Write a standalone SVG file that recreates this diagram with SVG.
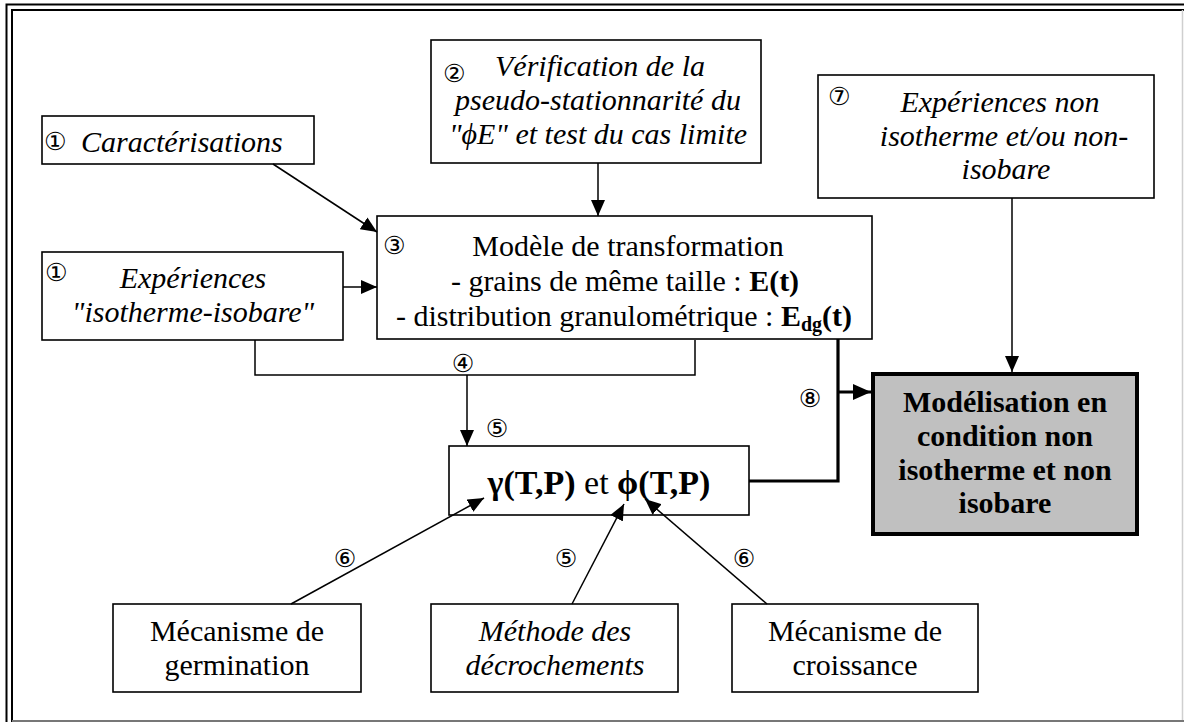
<svg xmlns="http://www.w3.org/2000/svg" width="1184" height="722" viewBox="0 0 1184 722">
<defs>
<style>
.box{fill:#fff;stroke:#000;stroke-width:1.6}
.t{font-family:"Liberation Serif","Times New Roman",serif;font-size:30px;fill:#000}
.g{font-size:34px}
.sub{font-size:20px}
.i{font-style:italic}
.b{font-weight:bold}
.n{font-family:"DejaVu Sans",sans-serif;font-size:25px;fill:#000}
.ln{fill:none;stroke:#000;stroke-width:1.5}
.thk{fill:none;stroke:#000;stroke-width:3.2}
</style>
<marker id="ah" markerUnits="userSpaceOnUse" markerWidth="16" markerHeight="14" refX="16" refY="7" orient="auto">
<path d="M0,0 L16,7 L0,14 Z" fill="#000"/>
</marker>
<marker id="ahb" markerUnits="userSpaceOnUse" markerWidth="18" markerHeight="16" refX="18" refY="8" orient="auto">
<path d="M0,0 L18,8 L0,16 Z" fill="#000"/>
</marker>
</defs>
<rect width="1184" height="722" fill="#fff"/>
<g id="frame">
<path d="M6.5,722 V4.5 H1184" fill="none" stroke="#000" stroke-width="2"/>
<path d="M12,722 V10 H1184" fill="none" stroke="#000" stroke-width="2"/>
<line x1="1182.5" y1="10" x2="1182.5" y2="722" stroke="#cfcfcf" stroke-width="1.5"/>
<line x1="12" y1="721" x2="1184" y2="721" stroke="#777" stroke-width="2"/>
</g>
<g id="n-caract">
<rect class="box" x="42" y="116" width="272" height="48"/>
<text class="n" x="44" y="150">①</text>
<text class="t i" x="81" y="152">Caractérisations</text>
</g>
<g id="n-verif">
<rect class="box" x="431" y="40" width="330" height="123"/>
<text class="n" x="443" y="82">②</text>
<text class="t i" x="600" y="76" text-anchor="middle">Vérification de la</text>
<text class="t i" x="598" y="110" text-anchor="middle">pseudo-stationnarité du</text>
<text class="t i" x="598" y="144" text-anchor="middle">"ϕE" et test du cas limite</text>
</g>
<g id="n-nonisoth">
<rect class="box" x="818" y="75" width="336" height="123"/>
<text class="n" x="828" y="105">⑦</text>
<text class="t i" x="1000" y="112" text-anchor="middle">Expériences non</text>
<text class="t i" x="1004" y="146" text-anchor="middle">isotherme et/ou non-</text>
<text class="t i" x="1006" y="179" text-anchor="middle">isobare</text>
</g>
<g id="n-exp">
<rect class="box" x="42" y="252" width="301" height="88"/>
<text class="n" x="45" y="281">①</text>
<text class="t i" x="193" y="288" text-anchor="middle">Expériences</text>
<text class="t i" x="193" y="322" text-anchor="middle">"isotherme-isobare"</text>
</g>
<g id="n-modele">
<rect class="box" x="377" y="216" width="495" height="123"/>
<text class="n" x="383" y="254">③</text>
<text class="t" x="628" y="256" text-anchor="middle">Modèle de transformation</text>
<text class="t" x="625" y="291" text-anchor="middle">- grains de même taille : <tspan class="b">E(t)</tspan></text>
<text class="t" x="624" y="326" text-anchor="middle">- distribution granulométrique : <tspan class="b">E</tspan><tspan class="b sub" dy="5">dg</tspan><tspan class="b" dy="-5">(t)</tspan></text>
</g>
<g id="n-gamma">
<rect class="box" x="449" y="446" width="300" height="69"/>
<text class="t g" x="599" y="494" text-anchor="middle"><tspan class="b">γ(T,P)</tspan> et <tspan class="b">ϕ(T,P)</tspan></text>
</g>
<g id="n-modelisation">
<rect x="873" y="374" width="264" height="160" fill="#c0c0c0" stroke="#000" stroke-width="4"/>
<text class="t b" x="1005" y="412" text-anchor="middle">Modélisation en</text>
<text class="t b" x="1005" y="446" text-anchor="middle">condition non</text>
<text class="t b" x="1005" y="480" text-anchor="middle">isotherme et non</text>
<text class="t b" x="1005" y="513" text-anchor="middle">isobare</text>
</g>
<g id="n-germ">
<rect class="box" x="113" y="604" width="248" height="88"/>
<text class="t" x="237" y="641" text-anchor="middle">Mécanisme de</text>
<text class="t" x="237" y="675" text-anchor="middle">germination</text>
</g>
<g id="n-meth">
<rect class="box" x="431" y="604" width="247" height="88"/>
<text class="t i" x="555" y="641" text-anchor="middle">Méthode des</text>
<text class="t i" x="555" y="675" text-anchor="middle">décrochements</text>
</g>
<g id="n-crois">
<rect class="box" x="732" y="604" width="246" height="88"/>
<text class="t" x="855" y="641" text-anchor="middle">Mécanisme de</text>
<text class="t" x="855" y="675" text-anchor="middle">croissance</text>
</g>
<g id="connectors">
<line class="ln" x1="273" y1="164" x2="377" y2="232" marker-end="url(#ah)"/>
<line class="ln" x1="343" y1="287" x2="377" y2="287" marker-end="url(#ah)"/>
<line class="ln" x1="598" y1="163" x2="598" y2="216" marker-end="url(#ah)"/>
<line class="ln" x1="1012" y1="198" x2="1012" y2="372" marker-end="url(#ah)"/>
<path class="ln" d="M255,340 V375 H695 V340"/>
<line class="ln" x1="467" y1="375" x2="467" y2="446" marker-end="url(#ah)"/>
<path class="thk" d="M838,339 V481 H749"/>
<line class="thk" x1="838" y1="392" x2="871" y2="392" marker-end="url(#ahb)"/>
<line class="ln" x1="291" y1="604" x2="484" y2="498" marker-end="url(#ah)"/>
<line class="ln" x1="572" y1="604" x2="624" y2="504" marker-end="url(#ah)"/>
<line class="ln" x1="767" y1="604" x2="645" y2="499" marker-end="url(#ah)"/>
<text class="n" x="463" y="372" text-anchor="middle">④</text>
<text class="n" x="497" y="437" text-anchor="middle">⑤</text>
<text class="n" x="810" y="407" text-anchor="middle">⑧</text>
<text class="n" x="345" y="567" text-anchor="middle">⑥</text>
<text class="n" x="566" y="567" text-anchor="middle">⑤</text>
<text class="n" x="744" y="567" text-anchor="middle">⑥</text>
</g>
</svg>
